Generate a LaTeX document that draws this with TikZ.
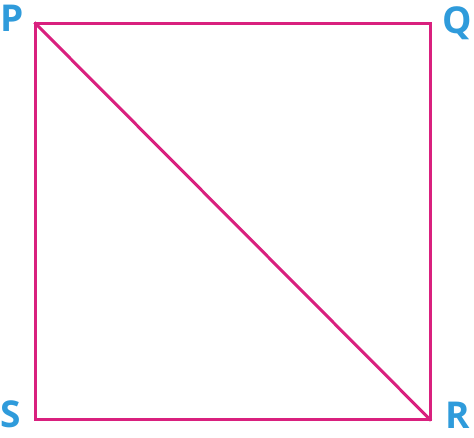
\documentclass[tikz,border=0pt]{standalone}
\usepackage{fontspec}
\setmainfont{Open Sans}
\definecolor{edgepink}{HTML}{D9207E}
\definecolor{labelblue}{HTML}{2F9BDB}
\begin{document}
\begin{tikzpicture}[x=1pt,y=1pt,
  edge/.style={draw=edgepink,line width=3pt,line cap=rect},
  lab/.style={text=labelblue,font=\fontsize{37}{37}\selectfont\bfseries,inner sep=0pt,anchor=base}]
\useasboundingbox (0,0) rectangle (474,438);
\coordinate (p) at (35.5,414.5);
\coordinate (q) at (430,414.5);
\coordinate (r) at (430,18.5);
\coordinate (s) at (35.5,18.5);
\draw[edge] (p) -- (q) -- (r) -- (s) -- cycle;
\draw[edge] (p) -- (r);
\node[lab] (P) at (12.5,406) {P};
\node[lab] (Q) at (457,404) {Q};
\node[lab] (S) at (11,10) {S};
\node[lab] (R) at (458,9) {R};
\end{tikzpicture}
\end{document}
